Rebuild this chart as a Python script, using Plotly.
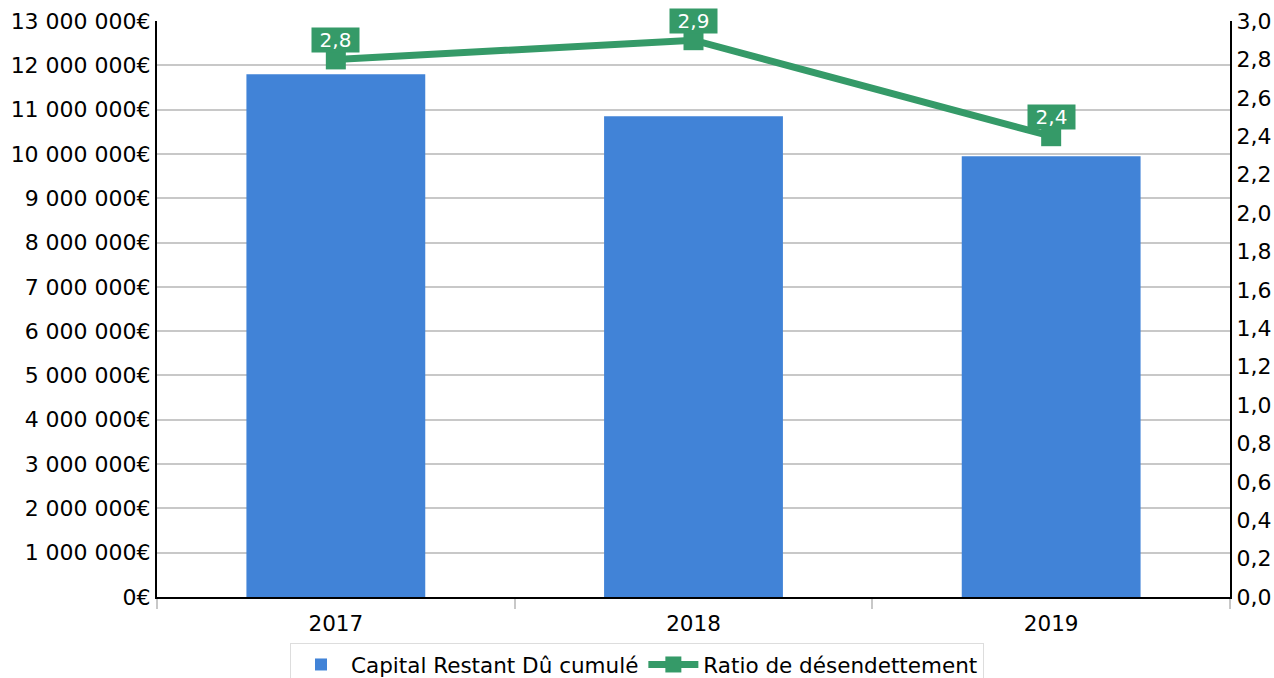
import plotly.graph_objects as go

years = ["2017", "2018", "2019"]
capital = [11800000, 10850000, 9950000]
ratio = [2.8, 2.9, 2.4]
ratio_labels = ["2,8", "2,9", "2,4"]

BLUE = "#4183d7"
GREEN = "#359a68"
FONT = "DejaVu Sans"

idx = list(range(len(years)))
bounds = [i - 0.5 for i in range(len(years) + 1)]

fig = go.Figure()
fig.add_trace(go.Bar(
    x=idx, y=capital, name="Capital Restant Dû cumulé",
    marker=dict(color=BLUE, line=dict(width=0)), width=0.5,
    yaxis="y", hoverinfo="skip",
))
fig.add_trace(go.Scatter(
    x=idx, y=ratio, name="Ratio de désendettement", mode="lines+markers",
    line=dict(color=GREEN, width=7), marker=dict(symbol="square", size=20, color=GREEN),
    yaxis="y2", hoverinfo="skip",
))

annotations = []
for x, y, t in zip(idx, ratio, ratio_labels):
    annotations.append(dict(
        x=x, y=y, xref="x", yref="y2", text=t, showarrow=False,
        yanchor="bottom", xanchor="center", yshift=6, bgcolor=GREEN, borderpad=1,
        width=45, height=22,
        font=dict(color="white", size=20, family=FONT),
    ))

fig.update_layout(
    width=1274, height=678,
    margin=dict(l=157, r=44, t=21, b=81, autoexpand=False),
    paper_bgcolor="white", plot_bgcolor="white",
    separators=", ",
    font=dict(family=FONT, size=22, color="black"),
    annotations=annotations,
    showlegend=True,
    legend=dict(
        orientation="h", x=0.5, xanchor="center", xref="container",
        y=1 - 643 / 678, yanchor="top", yref="container",
        bordercolor="#dddddd", borderwidth=1, font=dict(size=21.5, family=FONT),
        tracegroupgap=0, itemwidth=50,
    ),
    xaxis=dict(
        type="linear", range=[-0.5, 2.5], showgrid=False, zeroline=False, automargin=False,
        showline=True, linecolor="black", linewidth=2,
        tickmode="array", tickvals=idx, ticktext=years, ticks="",
        tickfont=dict(size=21.5), ticklabelstandoff=6,
        minor=dict(tickmode="array", tickvals=bounds, ticks="outside", ticklen=10,
                   tickcolor="#c8c8c8", tickwidth=2, showgrid=False),
    ),
    yaxis=dict(
        range=[0, 13000000], dtick=1000000, tickformat=",d", ticksuffix="€",
        showgrid=True, gridcolor="#c8c8c8", gridwidth=2, automargin=False,
        showline=True, linecolor="black", linewidth=2, zeroline=False,
        ticks="", tickfont=dict(size=22),
    ),
    yaxis2=dict(
        range=[0, 3.0], dtick=0.2, tickformat=".1f", overlaying="y", side="right",
        showgrid=False, showline=True, linecolor="black", linewidth=2, zeroline=False,
        automargin=False, ticks="", tickfont=dict(size=22),
    ),
)

fig.write_html(
    "out.html",
    config={"displayModeBar": False},
    post_script="document.body.style.margin='0';document.body.style.overflow='hidden';",
)
